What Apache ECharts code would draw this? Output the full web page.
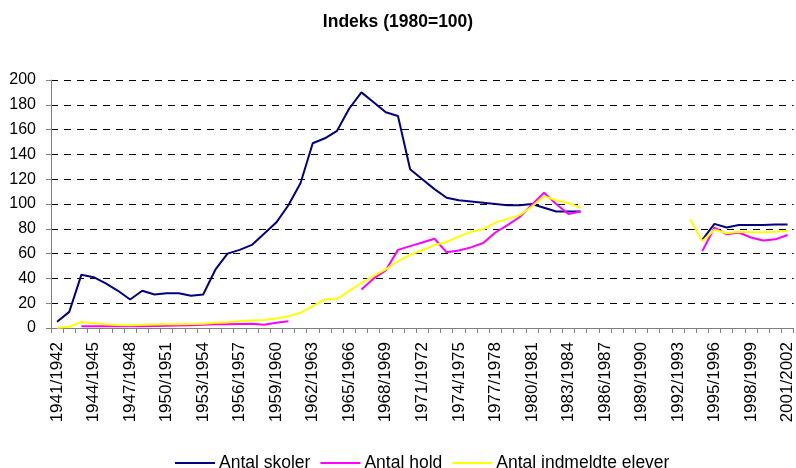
<!DOCTYPE html>
<html>
<head>
<meta charset="utf-8">
<script src="https://cdn.jsdelivr.net/npm/echarts@6/dist/echarts.min.js"></script>
<style>html,body{margin:0;padding:0;background:#fff}#c{width:796px;height:468px}</style>
</head>
<body>
<div id="c"></div>
<script>
var categories = ["1941/1942","1942/1943","1943/1944","1944/1945","1945/1946","1946/1947","1947/1948","1948/1949","1949/1950","1950/1951","1951/1952","1952/1953","1953/1954","1954/1955","1955/1956","1956/1957","1957/1958","1958/1959","1959/1960","1960/1961","1961/1962","1962/1963","1963/1964","1964/1965","1965/1966","1966/1967","1967/1968","1968/1969","1969/1970","1970/1971","1971/1972","1972/1973","1973/1974","1974/1975","1975/1976","1976/1977","1977/1978","1978/1979","1979/1980","1980/1981","1981/1982","1982/1983","1983/1984","1984/1985","1985/1986","1986/1987","1987/1988","1988/1989","1989/1990","1990/1991","1991/1992","1992/1993","1993/1994","1994/1995","1995/1996","1996/1997","1997/1998","1998/1999","1999/2000","2000/2001","2001/2002"];

var antalSkoler = [5,13,43,41,36,30,23,30,27,28,28,26,27,47,60,63,67,76,85,99,117,149,153,159,177,190,182,174,171,128,120,112,105,103,102,101,100,99,99,100,97,94,94,94,null,null,null,null,null,null,null,null,null,71,84,81,83,83,83,83.5,83.5];

var antalHold = [null,null,1.5,1.5,1.5,1.5,1.5,1.5,1.7,1.8,2,2.2,2.7,3,3,3.2,3.4,2.6,4.3,5.4,null,null,null,null,null,31,40,46.5,63,66,69,72,61,62.5,65,68.5,77,83,89.5,99.5,109,100,92,94,null,null,null,null,null,null,null,null,null,62,81,75.5,77,73,70.5,71.5,75];

var antalElever = [0.3,1,4.8,3.8,3,2.5,2.2,2.7,2.9,3,3.1,3.3,3.5,4.3,4.6,5.4,6,6.5,7.6,9.4,12.3,17.7,23,23.4,30,36.3,42,47.3,54,59,62.7,67,69.4,73.7,77.7,79.6,85,88,91,98,106.3,103,100.8,97,null,null,null,null,null,null,null,null,87.7,70,79.3,76.4,77.7,77.2,77.2,77.7,78.5];

var seriesNames = ["Antal skoler","Antal hold","Antal indmeldte elever"];
var seriesColors = ["#000080","#FF00FF","#FFFF00"];

var chart = echarts.init(document.getElementById('c'), null, {renderer:'canvas'});
var font = 'Arial, "Liberation Sans", sans-serif';
function mk(i, data){
  return {name: seriesNames[i], type:'line', data:data, symbol:'none', connectNulls:false,
    lineStyle:{color:seriesColors[i], width:2}, itemStyle:{color:seriesColors[i]}, animation:false};
}
chart.setOption({
  animation:false,
  title:{text:'Indeks (1980=100)', left:'center', top:8, textStyle:{fontFamily:font, fontSize:17.5, fontWeight:'bold', color:'#000'}},
  grid:{left:51, right:1, top:80, bottom:140, containLabel:false},
  legend:{top:449, left:170, itemWidth:40, itemHeight:12, itemGap:10,
    textStyle:{fontFamily:font, fontSize:17.5, color:'#000', padding:[0,0,0,-1]},
    data:seriesNames.map(function(n,i){return {name:n, icon:'path://M0,0 L40,0 L40,2 L0,2 Z', itemStyle:{color:seriesColors[i]}};})},
  xAxis:{type:'category', data:categories, boundaryGap:true,
    axisLine:{lineStyle:{color:'#808080', width:1}},
    axisTick:{show:true, interval:0, length:5, lineStyle:{color:'#808080'}},
    axisLabel:{interval:2, rotate:90, margin:14, fontFamily:font, fontSize:17, color:'#000'},
    splitLine:{show:false}},
  yAxis:{type:'value', min:0, max:200, interval:20,
    axisLine:{show:true, lineStyle:{color:'#808080', width:1}},
    axisTick:{show:true, length:5, lineStyle:{color:'#808080'}},
    axisLabel:{margin:15, fontFamily:font, fontSize:16, color:'#000'},
    splitLine:{show:true, lineStyle:{color:'#000', type:[7,6], width:1}}},
  series:[mk(0,antalSkoler), mk(1,antalHold), mk(2,antalElever)]
});
</script>
</body>
</html>
